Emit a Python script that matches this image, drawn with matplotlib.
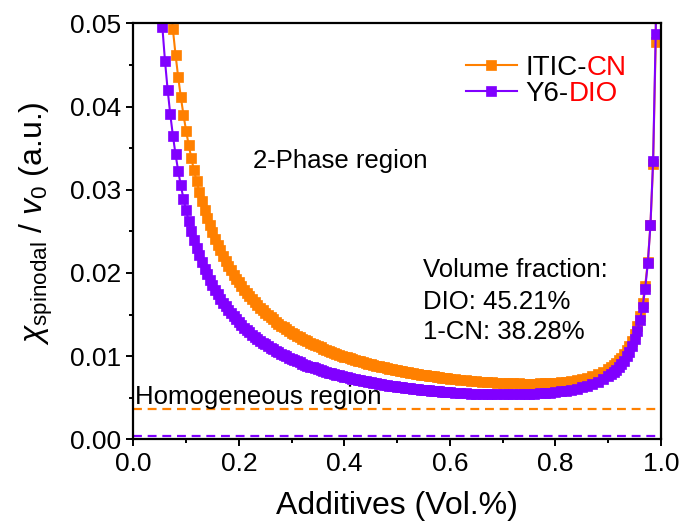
import matplotlib
matplotlib.use('Agg')
import matplotlib.pyplot as plt
from matplotlib.ticker import MultipleLocator, FormatStrFormatter

plt.rcParams['font.family'] = ['Liberation Sans', 'DejaVu Sans']
plt.rcParams['mathtext.fontset'] = 'custom'
plt.rcParams['mathtext.rm'] = 'Liberation Sans'
plt.rcParams['mathtext.it'] = 'Liberation Sans:italic'

# additive volume fraction, in four segments (finer steps where the curves are steep)
x_a = [0.050, 0.055, 0.060, 0.065, 0.070, 0.075, 0.080, 0.085, 0.090, 0.095,
       0.100, 0.105, 0.110, 0.115, 0.120, 0.125, 0.130, 0.135, 0.140, 0.145,
       0.150, 0.155, 0.160, 0.165, 0.170, 0.175, 0.180, 0.185, 0.190, 0.195,
       0.200, 0.205, 0.210, 0.215, 0.220, 0.225, 0.230, 0.235, 0.240, 0.245,
       0.250, 0.255, 0.260, 0.265, 0.270, 0.275, 0.280, 0.285, 0.290, 0.295,
       0.300]
x_b = [0.305, 0.310, 0.315, 0.320, 0.325, 0.330, 0.335, 0.340, 0.345, 0.350,
       0.355, 0.360, 0.365, 0.370, 0.375, 0.380, 0.385, 0.390, 0.395, 0.400,
       0.405, 0.410, 0.415, 0.420, 0.425, 0.430, 0.435, 0.440, 0.445, 0.450,
       0.455, 0.460, 0.465, 0.470, 0.475, 0.480, 0.485, 0.490, 0.495, 0.500,
       0.505, 0.510, 0.515, 0.520, 0.525, 0.530, 0.535, 0.540, 0.545, 0.550,
       0.555, 0.560, 0.565, 0.570, 0.575, 0.580, 0.585, 0.590, 0.595, 0.600]
x_c = [0.61, 0.62, 0.63, 0.64, 0.65, 0.66, 0.67, 0.68, 0.69, 0.70,
       0.71, 0.72, 0.73, 0.74, 0.75, 0.76, 0.77, 0.78, 0.79, 0.80,
       0.81, 0.82, 0.83, 0.84, 0.85, 0.86, 0.87, 0.88, 0.89]
x_d = [0.900, 0.905, 0.910, 0.915, 0.920, 0.925, 0.930, 0.935, 0.940, 0.945,
       0.950, 0.955, 0.960, 0.965, 0.970, 0.975, 0.980, 0.985, 0.990, 0.995]

# Y6-DIO spinodal
y6_a = [0.05448, 0.04958, 0.04549, 0.04203, 0.03907, 0.03650, 0.03425, 0.03227, 0.03051, 0.02893,
        0.02751, 0.02623, 0.02506, 0.02400, 0.02302, 0.02213, 0.02130, 0.02053, 0.01982, 0.01916,
        0.01854, 0.01796, 0.01742, 0.01691, 0.01644, 0.01599, 0.01556, 0.01516, 0.01478, 0.01442,
        0.01408, 0.01375, 0.01344, 0.01314, 0.01286, 0.01259, 0.01234, 0.01209, 0.01186, 0.01163,
        0.01141, 0.01121, 0.01101, 0.01082, 0.01063, 0.01045, 0.01028, 0.01012, 0.00996, 0.00981,
        0.00966]
y6_b = [0.00951, 0.00938, 0.00924, 0.00911, 0.00899, 0.00887, 0.00875, 0.00864, 0.00853, 0.00842,
        0.00832, 0.00822, 0.00812, 0.00803, 0.00794, 0.00785, 0.00776, 0.00768, 0.00760, 0.00752,
        0.00744, 0.00737, 0.00729, 0.00722, 0.00715, 0.00709, 0.00702, 0.00696, 0.00690, 0.00684,
        0.00678, 0.00672, 0.00667, 0.00661, 0.00656, 0.00651, 0.00646, 0.00641, 0.00637, 0.00632,
        0.00628, 0.00623, 0.00619, 0.00615, 0.00611, 0.00607, 0.00604, 0.00600, 0.00597, 0.00593,
        0.00590, 0.00587, 0.00584, 0.00581, 0.00578, 0.00575, 0.00572, 0.00570, 0.00567, 0.00565]
y6_c = [0.00561, 0.00557, 0.00553, 0.00550, 0.00547, 0.00544, 0.00542, 0.00541, 0.00540, 0.00539,
        0.00539, 0.00539, 0.00540, 0.00542, 0.00544, 0.00547, 0.00551, 0.00555, 0.00561, 0.00568,
        0.00575, 0.00585, 0.00596, 0.00609, 0.00624, 0.00643, 0.00664, 0.00690, 0.00722]
y6_d = [0.00760, 0.00783, 0.00808, 0.00836, 0.00869, 0.00905, 0.00947, 0.00997, 0.01054, 0.01122,
        0.01204, 0.01305, 0.01431, 0.01594, 0.01812, 0.02117, 0.02576, 0.03341, 0.04873, 0.09471]

# ITIC-CN spinodal (starts at 0.070)
itic_a = [0.05276, 0.04928, 0.04623, 0.04354, 0.04115, 0.03901, 0.03709, 0.03535, 0.03377, 0.03232,
          0.03100, 0.02978, 0.02866, 0.02762, 0.02665, 0.02576, 0.02492, 0.02413, 0.02340, 0.02271,
          0.02206, 0.02145, 0.02087, 0.02032, 0.01981, 0.01932, 0.01885, 0.01841, 0.01799, 0.01758,
          0.01720, 0.01683, 0.01648, 0.01615, 0.01583, 0.01552, 0.01523, 0.01494, 0.01467, 0.01441,
          0.01416, 0.01392, 0.01368, 0.01346, 0.01324, 0.01303, 0.01283]
itic_b = [0.01264, 0.01246, 0.01228, 0.01211, 0.01194, 0.01178, 0.01162, 0.01147, 0.01132, 0.01118,
          0.01104, 0.01090, 0.01077, 0.01064, 0.01052, 0.01040, 0.01028, 0.01017, 0.01006, 0.00995,
          0.00984, 0.00974, 0.00964, 0.00955, 0.00945, 0.00936, 0.00927, 0.00918, 0.00910, 0.00902,
          0.00894, 0.00886, 0.00878, 0.00871, 0.00864, 0.00857, 0.00850, 0.00843, 0.00836, 0.00830,
          0.00824, 0.00818, 0.00812, 0.00806, 0.00800, 0.00795, 0.00789, 0.00784, 0.00779, 0.00774,
          0.00769, 0.00765, 0.00760, 0.00756, 0.00751, 0.00747, 0.00743, 0.00739, 0.00735, 0.00731]
itic_c = [0.00724, 0.00717, 0.00711, 0.00705, 0.00699, 0.00694, 0.00689, 0.00685, 0.00681, 0.00678,
          0.00675, 0.00673, 0.00671, 0.00670, 0.00670, 0.00670, 0.00671, 0.00673, 0.00676, 0.00680,
          0.00685, 0.00692, 0.00700, 0.00711, 0.00724, 0.00740, 0.00759, 0.00783, 0.00811]
itic_d = [0.00847, 0.00868, 0.00891, 0.00918, 0.00948, 0.00982, 0.01022, 0.01068, 0.01123, 0.01187,
          0.01265, 0.01361, 0.01481, 0.01636, 0.01844, 0.02135, 0.02574, 0.03305, 0.04770, 0.09168]

# homogeneous chi levels (dashed)
chi_itic = 0.0036
chi_y6 = 0.0004

orange = '#FF8000'
purple = '#8000FF'

x_y6 = x_a + x_b + x_c + x_d
y_y6 = y6_a + y6_b + y6_c + y6_d
x_itic = x_a[4:] + x_b + x_c + x_d
y_itic = itic_a + itic_b + itic_c + itic_d

fig = plt.figure(figsize=(6.83, 5.23), dpi=100)
ax = fig.add_axes([0.1952, 0.160, 0.7726, 0.7954])

ax.plot(x_itic, y_itic, color=orange, lw=1.5, marker='s', ms=6.6, mec=orange, mew=0.5, label='ITIC-')
ax.plot(x_y6, y_y6, color=purple, lw=1.5, marker='s', ms=6.6, mec=purple, mew=0.5, label='Y6-')
ax.axhline(chi_itic, color=orange, lw=1.6, dashes=(4.0, 2.6))
ax.axhline(chi_y6, color=purple, lw=1.6, dashes=(4.0, 2.6))

ax.set_xlim(0, 1)
ax.set_ylim(0, 0.05)
ax.xaxis.set_major_locator(MultipleLocator(0.2))
ax.xaxis.set_minor_locator(MultipleLocator(0.1))
ax.yaxis.set_major_locator(MultipleLocator(0.01))
ax.yaxis.set_minor_locator(MultipleLocator(0.005))
ax.xaxis.set_major_formatter(FormatStrFormatter('%.1f'))
ax.yaxis.set_major_formatter(FormatStrFormatter('%.2f'))
ax.tick_params(which='major', direction='out', length=5, width=1.4, labelsize=19, pad=4)
ax.tick_params(which='minor', direction='out', length=3, width=1.4)
for s in ax.spines.values():
    s.set_linewidth(1.6)

ax.set_xlabel('Additives (Vol.%)', fontsize=23)
ax.xaxis.set_label_coords(0.5, -0.125)
ax.set_ylabel(r'$\chi_{\mathrm{spinodal}}$ / $v_0$ (a.u.)', fontsize=23)
ax.yaxis.set_label_coords(-0.148, 0.52)

ax.text(0.226, 0.0334, '2-Phase region', fontsize=18.5, va='center')
ax.text(0.549, 0.0203, 'Volume fraction:', fontsize=18.5, va='center')
ax.text(0.549, 0.01654, 'DIO: 45.21%', fontsize=18.5, va='center')
ax.text(0.549, 0.01286, '1-CN: 38.28%', fontsize=18.5, va='center')
ax.text(0.003, 0.00512, 'Homogeneous region', fontsize=18.5, va='center')

leg = ax.legend(loc='upper left', bbox_to_anchor=(0.63, 0.925), frameon=False, fontsize=20,
                handlelength=1.84, handletextpad=0.3, labelspacing=0.02, borderpad=0, borderaxespad=0)

# red part of the legend labels
fig.canvas.draw()
for t, red in zip(leg.get_texts(), ['CN', 'DIO']):
    bb = t.get_window_extent()
    fx, fy = fig.transFigure.inverted().transform((bb.x1, bb.y0))
    fig.text(fx, fy, red, color='#FF0000', fontsize=20, va='bottom', ha='left')

fig.savefig('out.png', dpi=100)
